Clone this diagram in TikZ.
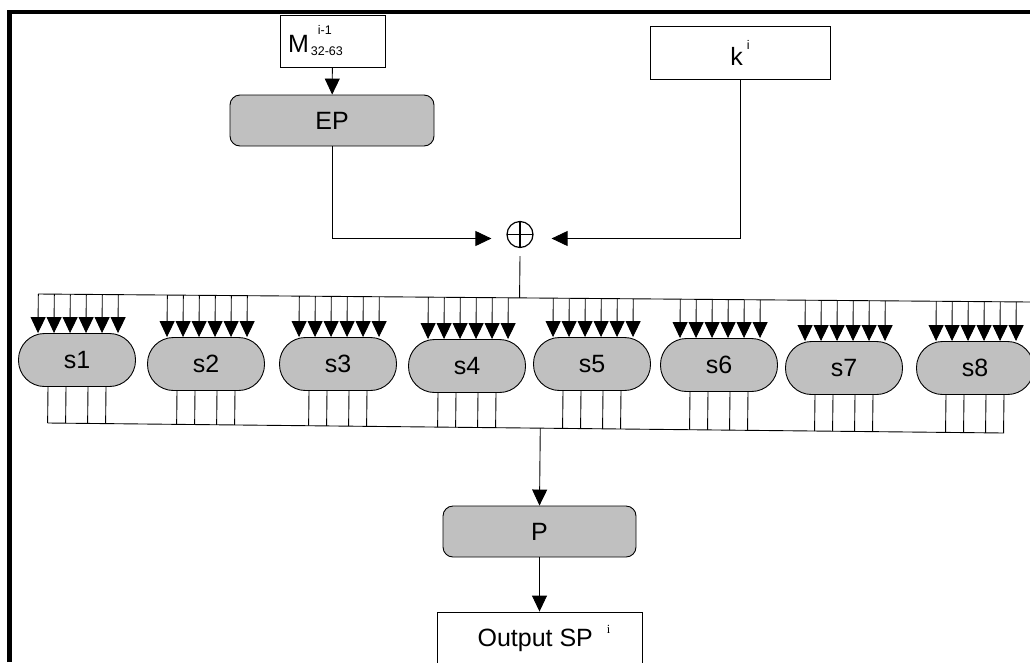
\documentclass[tikz,border=0pt]{standalone}
\usepackage{fontspec}
\setmainfont{Liberation Sans}
\newfontfamily\serifi{Liberation Serif}
\usetikzlibrary{arrows.meta,calc}
\definecolor{boxgray}{RGB}{192,192,192}
\newcommand\supfont{\fontsize{12.5}{13}\selectfont}

\begin{document}
\begin{tikzpicture}[x=1pt,y=-1pt,line width=0.9pt,font=\fontsize{25}{30}\selectfont,
  arr/.style={-{Triangle[length=16pt,width=15pt]}},
  wbox/.style={rectangle,draw,inner sep=0pt},
  gbox/.style={rectangle,draw,fill=boxgray,rounded corners=10pt,minimum height=51pt,inner sep=0pt},
  sbox/.style={rectangle,draw,fill=boxgray,rounded corners=26pt,minimum width=117pt,minimum height=53pt,inner sep=0pt}]
\useasboundingbox (0,0) rectangle (1030,662);
\clip (0,0) rectangle (1030,662);
% frame
\draw[line width=4.5pt] (9.5,662) -- (9.5,12) -- (1030,12);

% inputs
\node[wbox,minimum width=105pt,minimum height=52pt] (m) at (332.5,41)
  {M\rlap{\hspace{9pt}\raisebox{18pt}{\supfont i-1}}\hspace{2pt}\raisebox{-3pt}{\supfont 32-63}\hspace*{34pt}};
\node[wbox,minimum width=180pt,minimum height=53pt] (k) at (740,52.5)
  {k\hspace{4pt}\raisebox{16pt}{\supfont i}};
\node[gbox,minimum width=204pt] (ep) at (332,120.5) {EP};
\node[circle,draw,line width=1.2pt,minimum size=26pt,inner sep=0pt,
  path picture={\draw[line width=1.2pt] (path picture bounding box.north) -- (path picture bounding box.south)
    (path picture bounding box.west) -- (path picture bounding box.east);}] (xor) at (520,234.5) {};

% s-boxes
\foreach \n/\x/\y in {1/77/360,2/206/364,3/338/364,4/467/366,5/592/364,6/719/365,7/844/368,8/975/368}
  \node[sbox] (s\n) at (\x,\y) {s\n};

% output side
\node[gbox,minimum width=193pt] (p) at (539.5,531.5) {P};
\node[wbox,minimum width=205pt,minimum height=52pt] (out) at (539.5,638)
  {\hspace*{9pt}Output SP\hspace{14pt}\raisebox{13pt}{\supfont\serifi i}};

% buses
\coordinate (tl) at (38,294);
\coordinate (tr) at (1030,302);
\coordinate (bl) at (48,423);
\coordinate (br) at (1004,433);
\draw (tl) -- (tr);
\draw (bl) -- (br);

\draw[arr] (m) -- (ep);
\draw[arr] (ep.south) |- ([xshift=-15pt,yshift=-4pt]xor.west);
\draw[arr] (k.south) |- ([xshift=18pt,yshift=-4pt]xor.east);
\draw ([yshift=-8pt]xor.south) -- ($(tl)!(xor.south)!(tr)$);

\foreach \n in {1,...,8} {
  \foreach \d in {-39,-23,-7,9,25,41}
    \draw[arr] ($(tl)!([xshift=\d]s\n.north)!(tr)$) -- ([xshift=\d]s\n.north);
  \foreach \d in {-29,-11,11,29}
    \draw ([xshift=\d]s\n.south) -- ($(bl)!([xshift=\d]s\n.south)!(br)$);
}

\draw[arr] ($(bl)!(p.north)!(br)$) -- (p.north);
\draw[arr] (p) -- (out);
\end{tikzpicture}
\end{document}
